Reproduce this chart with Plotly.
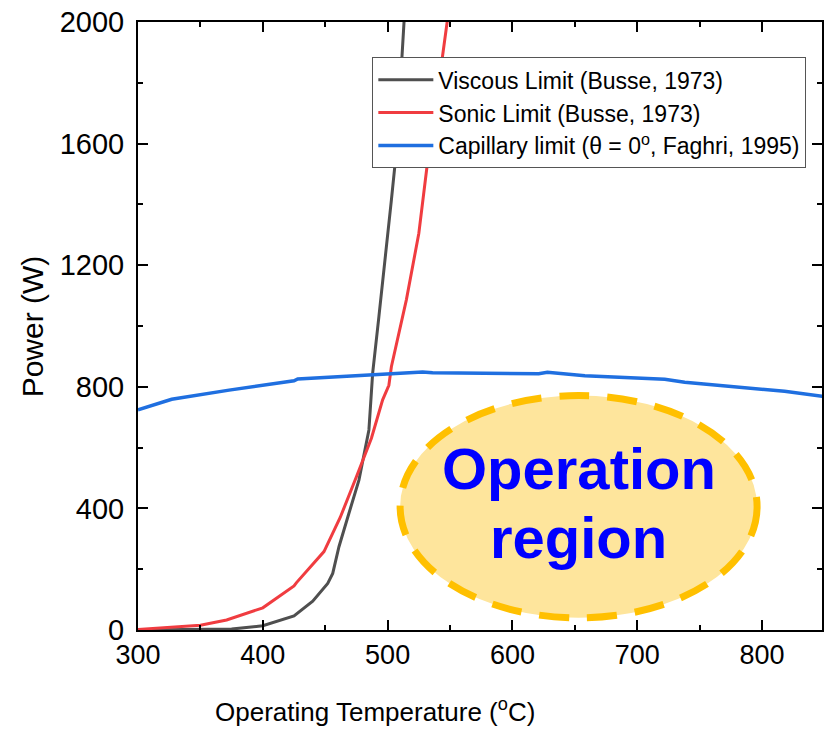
import plotly.graph_objects as go

# Operating temperature (°C) and power limits (W)
viscous_T = [300, 350, 375, 400, 425, 440, 452, 456, 461, 469, 477, 485, 488, 493, 499, 503, 507, 512, 514]
viscous_P = [0, 1, 3, 14, 46, 95, 153, 186, 274, 384, 493, 658, 845, 1031, 1250, 1414, 1575, 1890, 2060]

sonic_T = [300, 325, 350, 371, 400, 425, 427, 449, 462, 475, 487, 496, 501, 503, 515, 525, 533, 541, 548, 551]
sonic_P = [2, 8, 16, 33, 73, 145, 156, 258, 370, 504, 631, 757, 805, 866, 1086, 1305, 1573, 1798, 2000, 2100]

capillary_T = [300, 327, 373, 425, 428, 528, 536, 605, 621, 628, 658, 722, 727, 738, 818, 850]
capillary_P = [724, 759, 789, 820, 826, 849, 846, 842, 843, 848, 836, 825, 822, 815, 785, 768]

# Operation region outline (temperature span, power span)
region_T = [510, 796]
region_P = [40, 771]

x_ticks = [300, 400, 500, 600, 700, 800]
y_ticks = [0, 400, 800, 1200, 1600, 2000]

FONT = "Liberation Sans, Arial, sans-serif"

fig = go.Figure()

fig.add_trace(go.Scatter(x=viscous_T, y=viscous_P, mode="lines",
                         name="Viscous Limit (Busse, 1973)",
                         line=dict(color="#4f4f4f", width=3)))
fig.add_trace(go.Scatter(x=sonic_T, y=sonic_P, mode="lines",
                         name="Sonic Limit (Busse, 1973)",
                         line=dict(color="#f03c40", width=3)))
fig.add_trace(go.Scatter(x=capillary_T, y=capillary_P, mode="lines",
                         name="Capillary limit (θ = 0<sup>o</sup>, Faghri, 1995)",
                         line=dict(color="#1f6fe0", width=3.5)))

fig.add_shape(type="circle", xref="x", yref="y",
              x0=region_T[0], x1=region_T[1], y0=region_P[0], y1=region_P[1],
              fillcolor="#fee59c", line=dict(color="#ffc000", width=7, dash="30px,18px"),
              layer="below")

fig.add_annotation(x=(region_T[0] + region_T[1]) / 2, y=532, xref="x", yref="y",
                   text="<b>Operation</b>", showarrow=False,
                   font=dict(family=FONT, size=58, color="#0000ff"))
fig.add_annotation(x=(region_T[0] + region_T[1]) / 2, y=305, xref="x", yref="y",
                   text="<b>region</b>", showarrow=False,
                   font=dict(family=FONT, size=58, color="#0000ff"))

# Axis titles
fig.add_annotation(x=-0.1545, y=0.5, xref="paper", yref="paper",
                   text="Power (W)", textangle=-90, showarrow=False,
                   xanchor="center", yanchor="middle",
                   font=dict(family=FONT, size=30, color="black"))
fig.add_annotation(x=0.346, y=-0.133, xref="paper", yref="paper",
                   text="Operating Temperature (<sup>o</sup>C)", showarrow=False,
                   xanchor="center", yanchor="middle",
                   font=dict(family=FONT, size=26, color="black"))

fig.update_xaxes(range=[300, 848], tickvals=x_ticks, ticks="inside", ticklen=10,
                 tickwidth=2, tickcolor="black", showline=True, linewidth=2,
                 linecolor="black", mirror="allticks", showgrid=False, zeroline=False,
                 tickfont=dict(family=FONT, size=27, color="black"),
                 minor=dict(dtick=50, tick0=300, ticks="inside", ticklen=5,
                            tickwidth=2, tickcolor="black", showgrid=False))
fig.update_yaxes(range=[0, 2000], tickvals=y_ticks, ticks="inside", ticklen=10,
                 tickwidth=2, tickcolor="black", showline=True, linewidth=2,
                 linecolor="black", mirror="ticks", showgrid=False, zeroline=False,
                 ticklabelstandoff=6,
                 tickfont=dict(family=FONT, size=29, color="black"),
                 minor=dict(dtick=200, tick0=0, ticks="inside", ticklen=5,
                            tickwidth=2, tickcolor="black", showgrid=False))

fig.update_layout(
    width=824, height=729, autosize=False,
    margin=dict(l=138, r=0, t=22, b=99, pad=0),
    paper_bgcolor="white", plot_bgcolor="white",
    font=dict(family=FONT, color="black"),
    legend=dict(x=0.3426, y=0.942, xanchor="left", yanchor="top",
                bgcolor="white", bordercolor="#555555", borderwidth=1,
                font=dict(family=FONT, size=23, color="black"),
                itemwidth=55, tracegroupgap=0),
)

fig.write_html("out.html")
